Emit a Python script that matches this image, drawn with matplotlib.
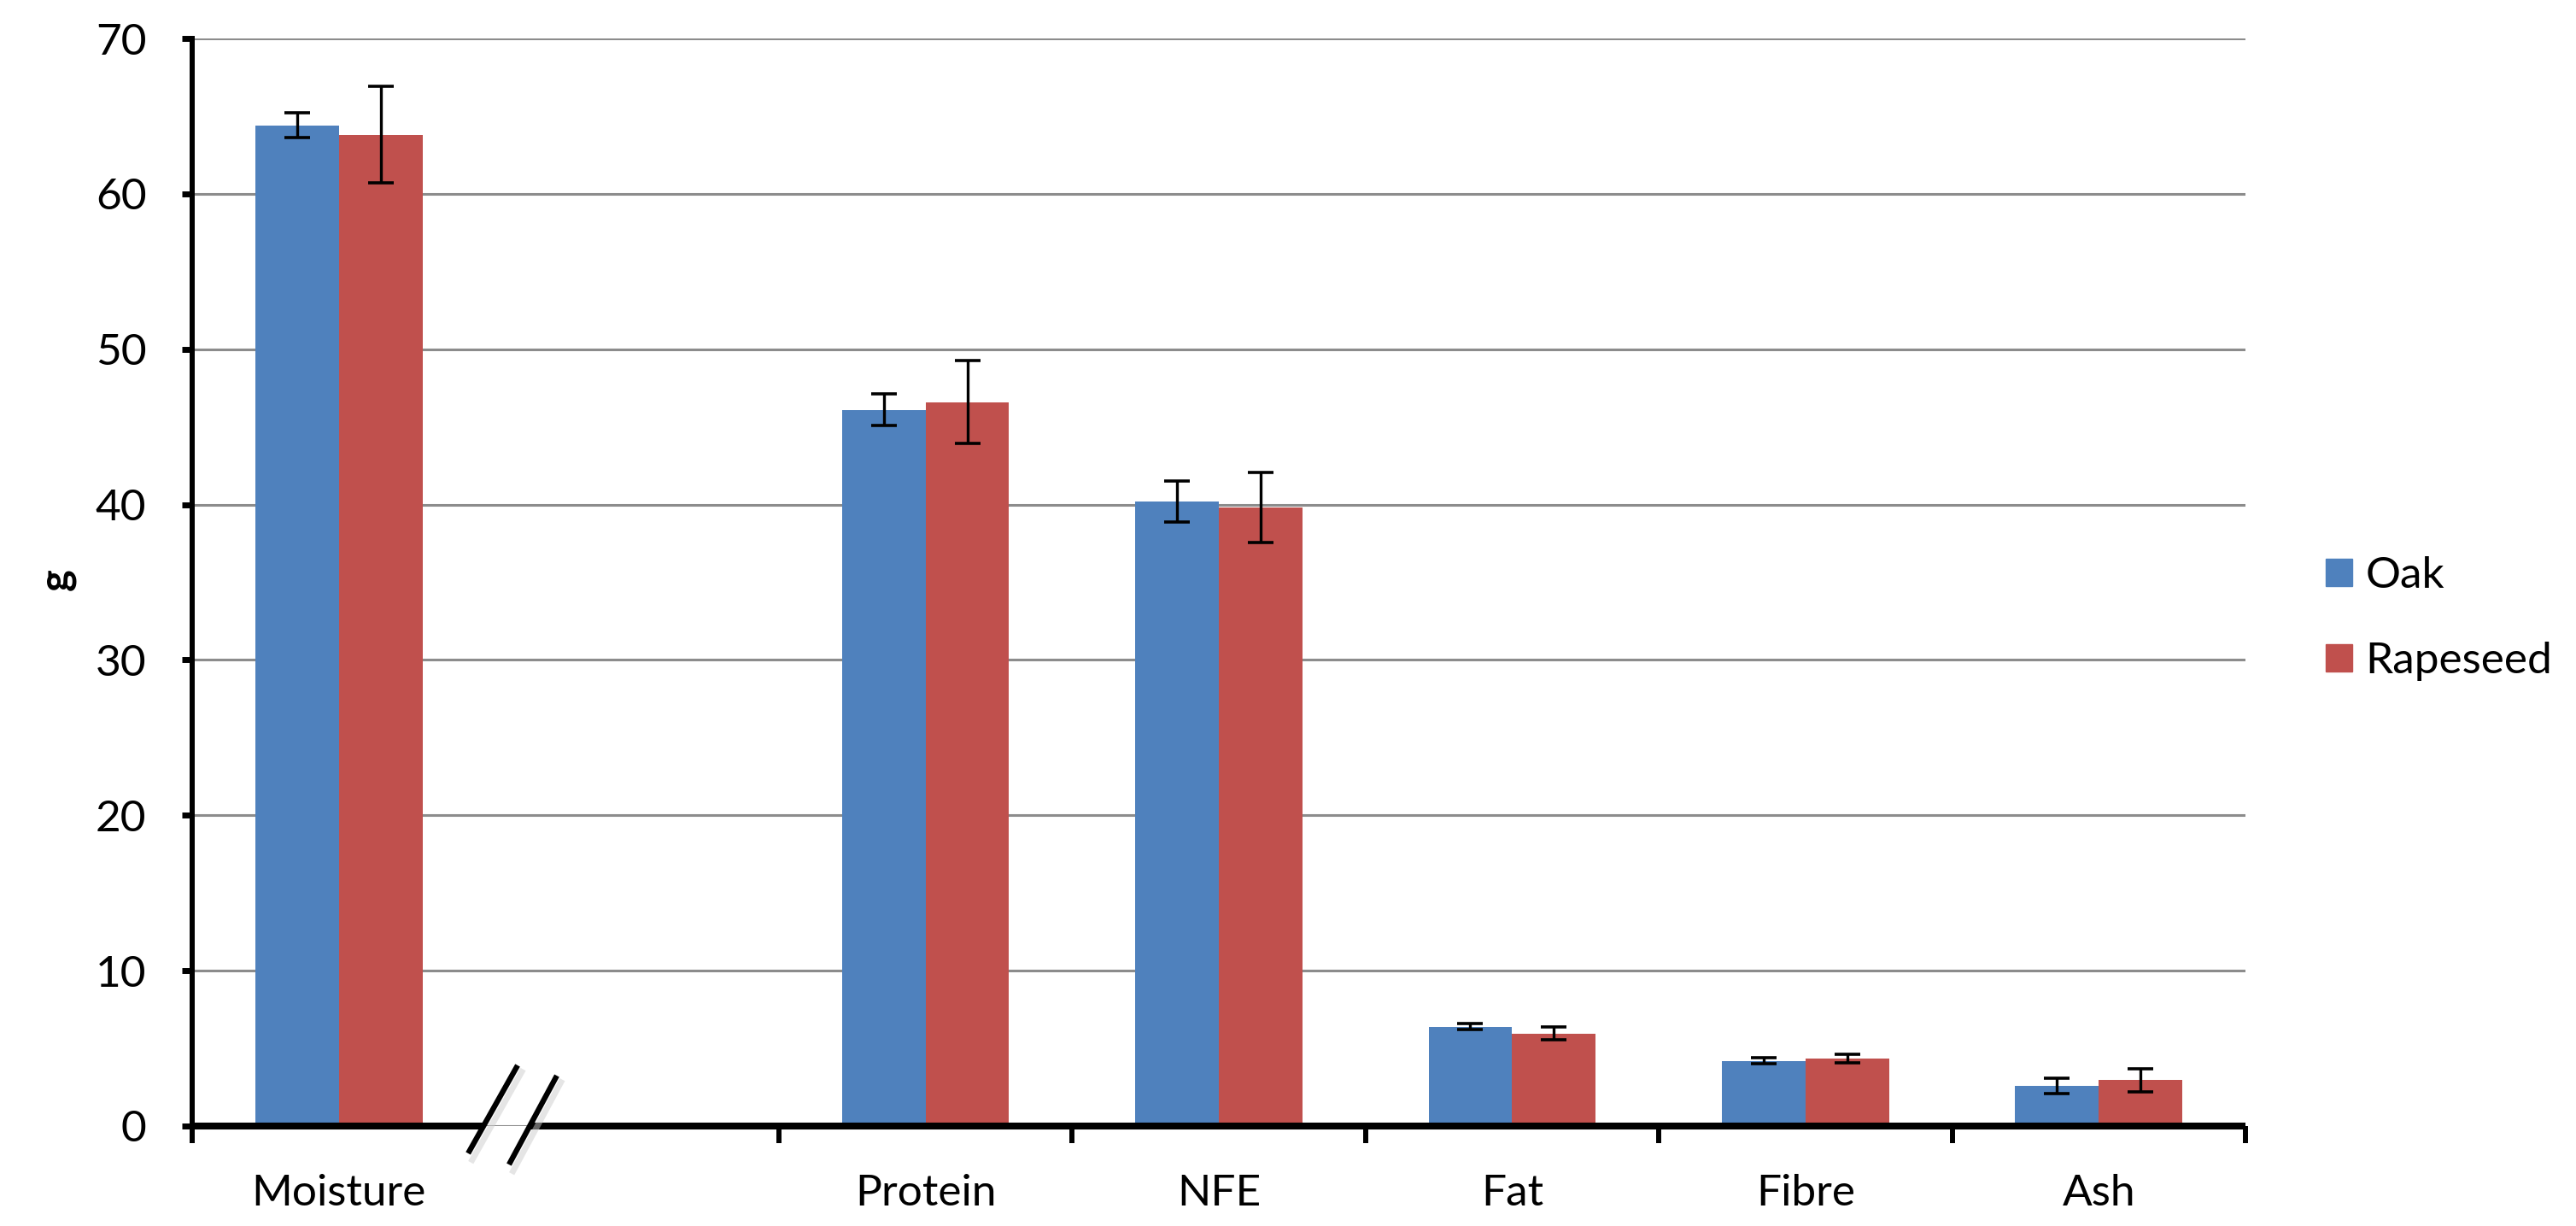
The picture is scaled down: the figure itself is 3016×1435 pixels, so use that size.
import matplotlib
matplotlib.use("Agg")
import matplotlib.pyplot as plt
from matplotlib.patches import Rectangle
from matplotlib.lines import Line2D
import numpy as np

plt.rcParams['font.family'] = ['Lato', 'DejaVu Sans']

categories = ["Moisture", "", "Protein", "NFE", "Fat", "Fibre", "Ash"]
series_names = ["Oak", "Rapeseed"]
oak_values = [64.4, None, 46.1, 40.2, 6.4, 4.2, 2.6]
oak_errors = [0.8, None, 1.0, 1.3, 0.2, 0.2, 0.5]
rape_values = [63.8, None, 46.6, 39.8, 5.95, 4.35, 2.95]
rape_errors = [3.1, None, 2.65, 2.25, 0.42, 0.27, 0.73]
colors = ["#4F81BD", "#C0504D"]
y_ticks = [0, 10, 20, 30, 40, 50, 60, 70]

W, H = 3016, 1435
fig = plt.figure(figsize=(W / 100, H / 100), dpi=100)
ax = fig.add_axes([225 / W, 117 / H, 2404 / W, 1273 / H])

x = np.arange(len(categories))
idx = [i for i, c in enumerate(categories) if c]
bw = 0.285

for k, (vals, errs) in enumerate([(oak_values, oak_errors), (rape_values, rape_errors)]):
    xs = x[idx] + (k - 0.5) * bw
    v = [vals[i] for i in idx]
    e = [errs[i] for i in idx]
    ax.bar(xs, v, width=bw, color=colors[k], zorder=2, label=series_names[k])
    ax.errorbar(xs, v, yerr=e, fmt='none', ecolor='black', elinewidth=2.4,
                capsize=11, capthick=2.6, zorder=3)

ax.set_xlim(-0.5, len(categories) - 0.5)
ax.set_ylim(0, 70)
ax.set_yticks(y_ticks)
ax.yaxis.grid(True, color='#8c8c8c', linewidth=2.2, zorder=0)
ax.set_axisbelow(True)

for s in ['top', 'right', 'bottom']:
    ax.spines[s].set_visible(False)
ax.spines['left'].set_linewidth(4.3)
ax.spines['left'].set_zorder(5)

# x axis drawn as two segments with a break
xt = ax.get_xaxis_transform()
ax.add_line(Line2D([-0.5, 0.494], [0, 0], transform=xt, color='black', lw=5.8,
                   solid_capstyle='butt', clip_on=False, zorder=5))
ax.add_line(Line2D([0.652, len(categories) - 0.5], [0, 0], transform=xt, color='black', lw=5.8,
                   solid_capstyle='butt', clip_on=False, zorder=5))

# break marks with soft shadow
for (x0, y0, x1, y1) in [(0.1344, -0.0251, 0.1585, 0.0558), (0.1543, -0.0354, 0.1776, 0.0463)]:
    ax.add_line(Line2D([x0 + 0.002, x1 + 0.002], [y0 - 0.006, y1 - 0.006], transform=ax.transAxes,
                       color='#cccccc', lw=5, alpha=0.5, clip_on=False, zorder=5))
    ax.add_line(Line2D([x0, x1], [y0, y1], transform=ax.transAxes, color='black', lw=4.6,
                       clip_on=False, zorder=6, solid_capstyle='butt'))

# x ticks at slot boundaries (except the broken one), labels at centers
bounds = [b for b in np.arange(-0.5, len(categories), 1.0) if abs(b - 0.5) > 1e-6]
ax.set_xticks(bounds)
ax.set_xticklabels([])
ax.tick_params(axis='x', which='major', direction='out', length=14.4, width=4.3, color='black')
ax.set_xticks(x[idx], minor=True)
ax.set_xticklabels([categories[i] for i in idx], minor=True)
ax.tick_params(axis='x', which='minor', length=0, pad=40, labelsize=37)

ax.tick_params(axis='y', direction='out', length=8.6, width=5, labelsize=37, pad=30)

fig.text(66 / W, 1 - 678 / H, "g", rotation=90, fontsize=35, fontweight='bold',
         ha='center', va='center')

handles = [Rectangle((0, 0), 1, 1, color=c) for c in colors]
fig.legend(handles, series_names, loc='center left', bbox_to_anchor=(2723 / W, 1 - 724 / H),
           frameon=False, fontsize=37, handlelength=0.6, handleheight=0.6,
           handletextpad=0.3, labelspacing=1.05, borderpad=0, borderaxespad=0)

fig.savefig("out.png", dpi=100)
